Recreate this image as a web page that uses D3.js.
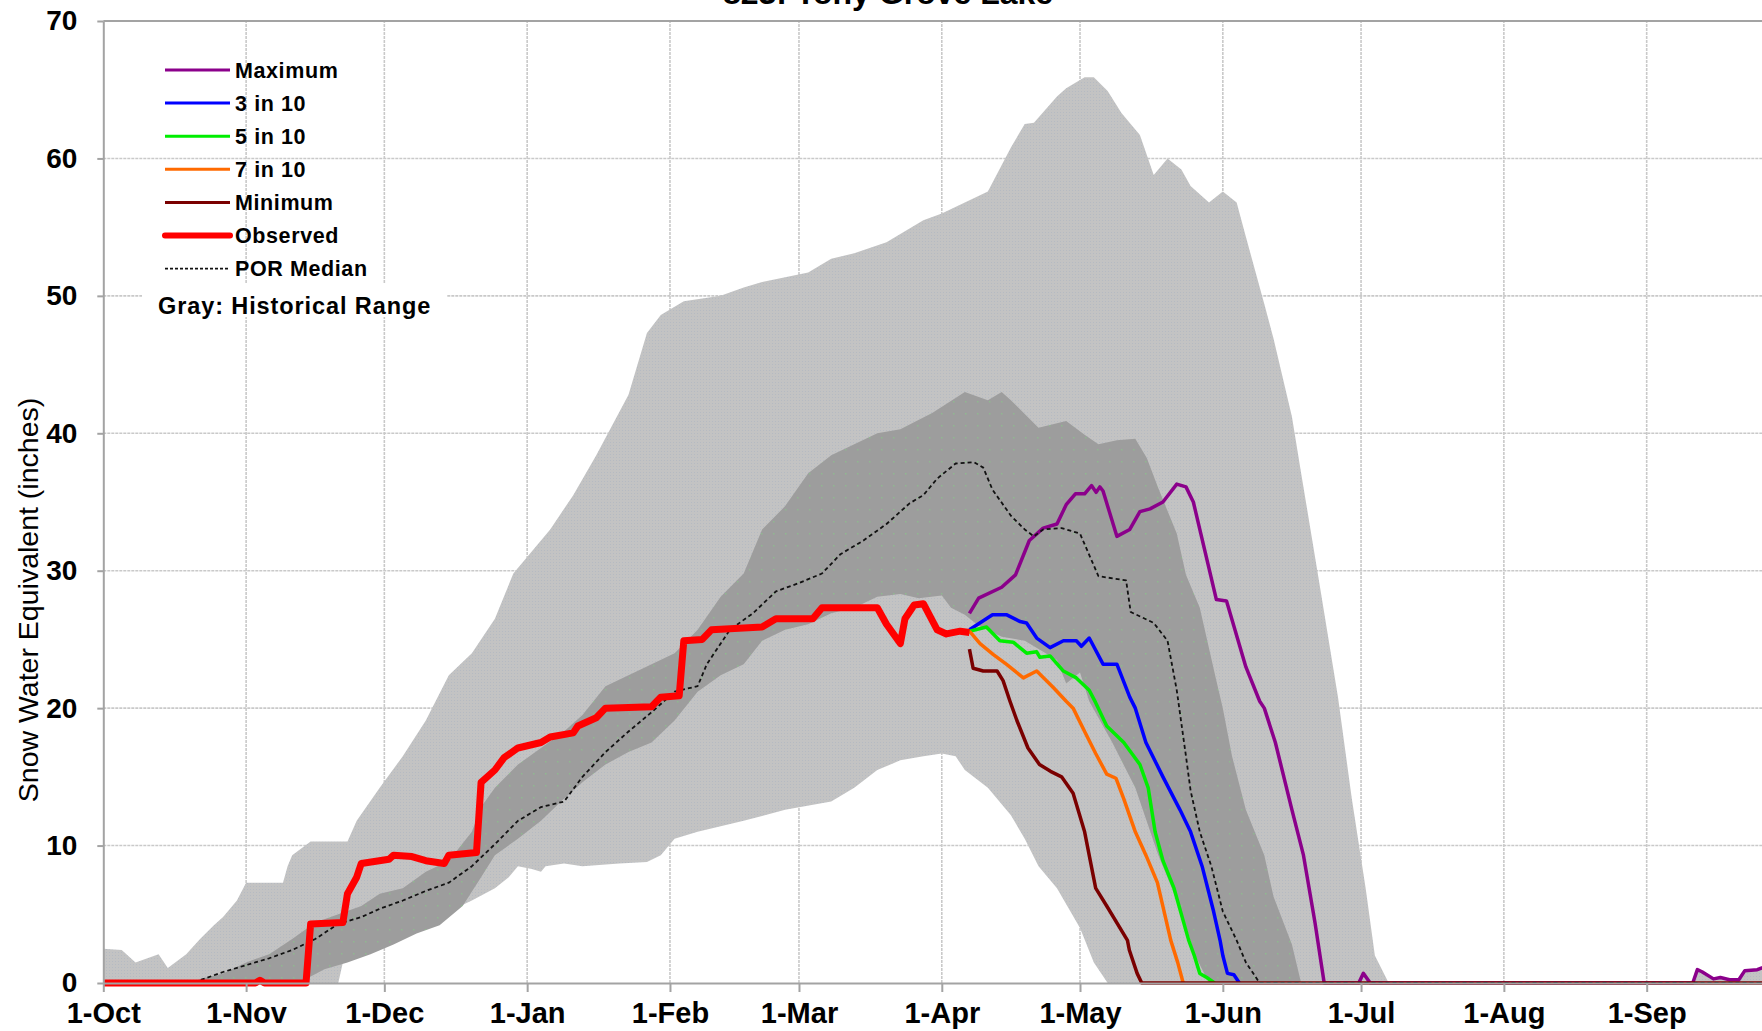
<!DOCTYPE html>
<html>
<head>
<meta charset="utf-8">
<script src="https://cdn.jsdelivr.net/npm/d3@7"></script>
<style>
  body { margin: 0; background: #fff; overflow: hidden; }
  svg { display: block; font-family: "Liberation Sans", Arial, sans-serif; }
  .axis path, .axis line { stroke: #a3a3a3; stroke-width: 2; }
  .axis text { font-weight: bold; fill: #000; }
  .grid line { stroke: #c9c9c9; stroke-width: 1.6; stroke-dasharray: 3,1; }
</style>
</head>
<body>
<svg></svg>
<script>
// ---- data (day = days since 1-Oct, value = inches SWE) ----
var monthStarts = [0, 31, 61, 92, 123, 151, 182, 212, 243, 273, 304, 335];
var monthLabels = ["1-Oct", "1-Nov", "1-Dec", "1-Jan", "1-Feb", "1-Mar", "1-Apr", "1-May", "1-Jun", "1-Jul", "1-Aug", "1-Sep"];
var yTicks = [0, 10, 20, 30, 40, 50, 60, 70];

var histMax = [[0,2.5],[4,2.4],[7,1.5],[12,2.1],[14,1.1],[18,2.1],[21,3.2],[24,4.2],[26,4.8],[29,6.0],[31,7.3],[39,7.3],[40,8.5],[41,9.3],[45,10.3],[53,10.3],[55,11.8],[60,14.2],[65,16.5],[70,19.1],[75,22.4],[80,24],[85,26.5],[89,29.8],[92,31],[97,33],[102,35.5],[107,38.4],[114,42.8],[118,47.3],[121,48.6],[126,49.6],[134,50],[139,50.6],[143,51],[153,51.7],[158,52.7],[163,53.1],[170,53.9],[173,54.5],[178,55.5],[182,56],[187,56.8],[192,57.6],[197,60.8],[200,62.5],[202,62.6],[207,64.5],[209,65.1],[213,65.9],[215,65.9],[218,64.9],[221,63.3],[225,61.7],[228,58.8],[231,60],[234,59.2],[236,58],[240,56.8],[243,57.6],[246,56.8],[248,54.3],[252,49.4],[254,46.9],[258,41.2],[260,37.1],[264,29],[268,20.8],[271,13.4],[274,6.9],[276,2],[279,0],[345,0],[346,0.97],[347,0.82],[349.5,0.3],[351,0.4],[353,0.24],[355,0.24],[356.3,0.9],[359,0.97],[360,1.1],[365,1.2]];
var histMin = [[0,0],[51,0],[52,1.5],[56,2],[60,2.4],[63,3.2],[70,4],[75,5.2],[80,6],[85,6.9],[88,7.7],[90,8.5],[93,8.3],[95,8.1],[96,8.5],[100,8.7],[104,8.5],[112,8.7],[118,8.8],[121,9.3],[124,10.5],[129,11],[139,11.8],[148,12.6],[158,13.2],[163,14.2],[168,15.5],[173,16.2],[178,16.5],[182,16.7],[185,16.5],[187,15.5],[192,14.2],[197,12.2],[200,10.5],[203,8.5],[207,6.9],[212,4],[215,1.5],[218,0],[365,0]];

var bandUpper = [[19,0],[21,0.3],[26,0.7],[31,1.5],[36,2.1],[41,3.2],[46,4.4],[51,5],[56,5.6],[60,6.5],[65,6.9],[70,8.1],[75,8.9],[80,11],[82,12.8],[85,14.2],[90,15.9],[95,17.1],[100,18.3],[104,19.5],[109,21.6],[114,22.4],[119,23.2],[124,24],[129,25.7],[134,28.1],[139,29.8],[143,33],[148,34.7],[153,37.1],[158,38.4],[163,39.2],[168,40],[173,40.3],[180,41.5],[187,43],[192,42.4],[195,43],[197,42.4],[203,40.4],[209,40.9],[213,39.9],[216,39.2],[220,39.5],[224,39.6],[226.5,38.2],[229,36],[233,32.7],[235,29.7],[238,27.3],[241.6,22],[243,20],[245,16.5],[248,12.6],[252,9.3],[254,6.3],[258,2.8],[260,0]];
var bandLower = [[19,0],[43,0],[44,0.3],[48,1],[53,1.5],[58,2.1],[63,2.8],[68,3.6],[73,4.2],[78,5.6],[82,7.7],[85,9.3],[90,10.5],[95,11.8],[100,13.4],[104,14.6],[109,15.9],[114,16.8],[119,17.5],[124,19.1],[129,21.2],[134,22.4],[139,23.2],[143,24.9],[148,25.7],[153,26.1],[158,26.9],[163,27.3],[168,28.1],[173,28.3],[177,28.0],[182,28.2],[184,27.3],[187,26.8],[190,26],[195,25.2],[200,24.9],[207,23.5],[209,21.8],[212,22.6],[214,20.5],[219,17.5],[224,14.2],[229,9.3],[234,5.2],[237,2],[240,0],[260,0]];

var porMedian = [[0,0],[19,0],[21,0.2],[26,0.8],[31,1.3],[36,1.8],[41,2.4],[46,3.2],[51,4.3],[56,4.8],[60,5.4],[65,6],[70,6.7],[75,7.3],[80,8.5],[85,10.1],[90,11.8],[95,12.8],[100,13.2],[104,15],[109,16.8],[114,18.3],[119,19.7],[124,21.2],[129,21.6],[131,23.2],[136,25.7],[141,26.9],[146,28.5],[151,29.1],[156,29.8],[160,31.2],[165,32.2],[170,33.4],[175,34.9],[178,35.5],[181,36.7],[185,37.8],[189,37.9],[191,37.5],[193,35.9],[197,34],[200,33],[202,32.5],[204,33],[208,33.1],[212,32.7],[216,29.6],[222,29.3],[223,27],[228,26.2],[231,24.9],[233,21.3],[235,16.5],[236,14],[238,11],[240.5,8.5],[243,5.2],[246,3.1],[248,1.5],[251,0],[365,0]];

var observed = [[0,0],[33,0],[34,0.2],[35,0],[44,0],[45,4.3],[52,4.4],[53,6.5],[55,7.7],[56,8.7],[62,9.0],[63,9.3],[67,9.2],[70,8.9],[74,8.7],[75,9.3],[81,9.5],[82,14.6],[85,15.5],[87,16.4],[90,17.1],[95,17.5],[97,17.9],[102,18.2],[103,18.7],[107,19.3],[109,20],[119,20.1],[121,20.8],[125,20.9],[126,24.9],[130,25],[132,25.7],[143,25.9],[146,26.5],[154,26.5],[156,27.3],[168,27.3],[170,26.1],[173,24.7],[174,26.5],[176,27.5],[178,27.6],[181,25.7],[183,25.4],[186,25.6],[188,25.5]];

var fcMax = [[188,26.9],[190,28.0],[195,28.8],[198,29.7],[201,32.2],[204,33.1],[207,33.4],[209,34.8],[211,35.6],[213,35.6],[214.5,36.2],[215.5,35.7],[216.3,36.1],[217,35.8],[220,32.5],[222.8,33.0],[225,34.3],[227.2,34.5],[230,35.0],[233,36.3],[235,36.1],[236.6,35.0],[241.6,27.9],[243.8,27.8],[248,23.0],[251,20.5],[252,20],[254.4,17.5],[258,12.6],[260.5,9.3],[263,4.4],[265,0],[272.5,0],[273.5,0.7],[275,0],[345,0],[346,0.97],[347,0.82],[349.5,0.3],[351,0.4],[353,0.24],[355,0.24],[356.3,0.9],[359,0.97],[360,1.1],[365,1.2]];
var fc3in10 = [[188,25.7],[193,26.8],[196,26.8],[199,26.3],[200.4,26.2],[202.6,25.1],[205.5,24.4],[208.4,24.9],[211.2,24.9],[212.3,24.5],[214,25.1],[217,23.2],[220,23.2],[222.8,20.8],[224,20],[226.3,17.5],[230,15],[233.7,12.6],[236,11],[238.5,8.5],[241,5.2],[242.4,3.1],[243,2],[244,0.7],[245.4,0.6],[246.6,0]];
var fc5in10 = [[188,25.6],[191.7,25.9],[194.6,24.9],[197.5,24.8],[200.4,24.0],[202.6,24.1],[203.3,23.7],[205.5,23.8],[208.4,22.7],[211.2,22.2],[214,21.3],[215.4,20.4],[217.8,18.7],[221.5,17.5],[225,15.9],[226.8,14.2],[228.3,11],[230,8.9],[232.4,6.9],[235.6,3.1],[236.8,2],[238,0.7],[239.5,0.4],[241.2,0]];
var fc7in10 = [[188,25.6],[190.3,24.7],[193.2,23.9],[196,23.2],[199.7,22.2],[202.6,22.7],[206.2,21.5],[209,20.5],[210.5,20],[213,18.3],[215.4,16.7],[217.8,15.2],[219.8,14.9],[221.5,13.4],[224,11],[226.3,9.3],[228.8,7.3],[231.7,3.1],[233.2,1.5],[234.4,0]];
var fcMin = [[188,24.3],[188.8,22.9],[191,22.7],[194,22.7],[195.3,22.0],[196.8,20.5],[198.3,19.1],[200.7,17.1],[203.2,15.9],[205.6,15.4],[208,15.0],[210.5,13.8],[213,11],[215.4,6.9],[217.8,5.6],[222.3,3.1],[222.7,2.4],[224.4,0.7],[225.4,0],[365,0]];

var legendNames = ["Maximum", "3 in 10", "5 in 10", "7 in 10", "Minimum", "Observed", "POR Median"];

// ---- layout ----
var svg = d3.select("svg"),
    width = 1762,
    height = 1031;
svg.attr("width", width).attr("height", height);

var x = d3.scaleLinear().domain([0, 365]).range([103.3, 1784.9]);
var y = d3.scaleLinear().domain([0, 70]).range([983, 21]);

var styles = {
  "Maximum":    {color: "#8b008b", w: 3.5},
  "3 in 10":    {color: "#0000ff", w: 3.5},
  "5 in 10":    {color: "#00ee00", w: 3.5},
  "7 in 10":    {color: "#ff6a00", w: 3.5},
  "Minimum":    {color: "#7a0000", w: 3.5},
  "Observed":   {color: "#ff0000", w: 7},
  "POR Median": {color: "#111111", w: 1.8, dash: "4,3"}
};

// textures for the gray bands
var defs = svg.append("defs");
var pl = defs.append("pattern").attr("id", "lightTex")
  .attr("width", 3).attr("height", 3).attr("patternUnits", "userSpaceOnUse");
pl.append("rect").attr("width", 3).attr("height", 3).attr("fill", "#c3c3c3");
pl.append("rect").attr("x", 1).attr("y", 1).attr("width", 1).attr("height", 1).attr("fill", "#b5bac2");
var pd = defs.append("pattern").attr("id", "darkTex")
  .attr("width", 12).attr("height", 12).attr("patternUnits", "userSpaceOnUse");
pd.append("rect").attr("width", 12).attr("height", 12).attr("fill", "#9d9d9d");
pd.append("rect").attr("x", 5).attr("y", 5).attr("width", 1.5).attr("height", 1.5).attr("fill", "#90b890");

var g = svg.append("g");

// grid
var grid = g.append("g").attr("class", "grid");
grid.selectAll(".hg").data(yTicks.filter(function(d) { return d > 0 && d < 70; }))
  .enter().append("line")
  .attr("x1", x(0)).attr("x2", x(365))
  .attr("y1", function(d) { return y(d); }).attr("y2", function(d) { return y(d); });
grid.selectAll(".vg").data(monthStarts.slice(1))
  .enter().append("line")
  .attr("y1", y(0)).attr("y2", y(70))
  .attr("x1", function(d) { return x(d); }).attr("x2", function(d) { return x(d); });

var line = d3.line().x(function(d) { return x(d[0]); }).y(function(d) { return y(d[1]); });

// historical range (light gray) and inner band (dark gray)
g.append("path")
  .attr("d", line(histMax.concat(histMin.slice().reverse())) + "Z")
  .attr("fill", "url(#lightTex)");
g.append("path")
  .attr("d", line(bandUpper.concat(bandLower.slice().reverse())) + "Z")
  .attr("fill", "url(#darkTex)");

// lines
var series = [
  ["Maximum", fcMax], ["3 in 10", fc3in10], ["5 in 10", fc5in10], ["7 in 10", fc7in10],
  ["Minimum", fcMin], ["POR Median", porMedian], ["Observed", observed]
];
series.forEach(function(s) {
  var st = styles[s[0]];
  g.append("path")
    .datum(s[1])
    .attr("d", line)
    .attr("fill", "none")
    .attr("stroke", st.color)
    .attr("stroke-width", st.w)
    .attr("stroke-linejoin", "round")
    .attr("stroke-dasharray", st.dash || null);
});

// axes
var xAxis = g.append("g")
  .attr("class", "axis")
  .attr("transform", "translate(0," + y(0) + ")")
  .call(d3.axisBottom(x).tickValues(monthStarts)
    .tickFormat(function(d, i) { return monthLabels[i]; })
    .tickSize(9).tickSizeOuter(0).tickPadding(10));
xAxis.selectAll("text").style("font-size", "29px");

var yAxis = g.append("g")
  .attr("class", "axis")
  .attr("transform", "translate(" + x(0) + ",0)")
  .call(d3.axisLeft(y).tickValues(yTicks).tickSize(6).tickSizeOuter(0).tickPadding(20));
yAxis.selectAll("text").style("font-size", "28px");

// top border
g.append("line")
  .attr("x1", x(0)).attr("x2", x(365))
  .attr("y1", y(70)).attr("y2", y(70))
  .attr("stroke", "#a3a3a3").attr("stroke-width", 2);

// titles
svg.append("text")
  .attr("x", 888).attr("y", 4)
  .attr("text-anchor", "middle")
  .style("font-size", "32px").style("font-weight", "bold")
  .text("823: Tony Grove Lake");

svg.append("text")
  .attr("transform", "translate(38,600) rotate(-90)")
  .attr("text-anchor", "middle")
  .style("font-size", "28.5px")
  .text("Snow Water Equivalent (inches)");

// legend
var legend = svg.append("g").attr("transform", "translate(165,70)");
legendNames.forEach(function(name, i) {
  var st = styles[name];
  var row = legend.append("g").attr("transform", "translate(0," + (i * 33.1) + ")");
  row.append("line")
    .attr("x1", 0).attr("x2", 65).attr("y1", 0).attr("y2", 0)
    .attr("stroke", st.color)
    .attr("stroke-width", name == "Observed" ? 6 : (name == "POR Median" ? 1.6 : 3))
    .attr("stroke-linecap", name == "Observed" ? "round" : "butt")
    .attr("stroke-dasharray", st.dash ? "3,2" : null);
  row.append("text")
    .attr("x", 70).attr("dy", "0.35em")
    .style("font-size", "21.5px").style("font-weight", "bold")
    .style("letter-spacing", "0.6px")
    .text(name);
});
svg.append("rect")
  .attr("x", 142).attr("y", 283).attr("width", 305).attr("height", 34)
  .attr("fill", "#fff");
svg.append("text")
  .attr("x", 158).attr("y", 306).attr("dy", "0.35em")
  .style("font-size", "23.5px").style("font-weight", "bold")
  .style("letter-spacing", "0.9px")
  .text("Gray: Historical Range");
</script>
</body>
</html>
